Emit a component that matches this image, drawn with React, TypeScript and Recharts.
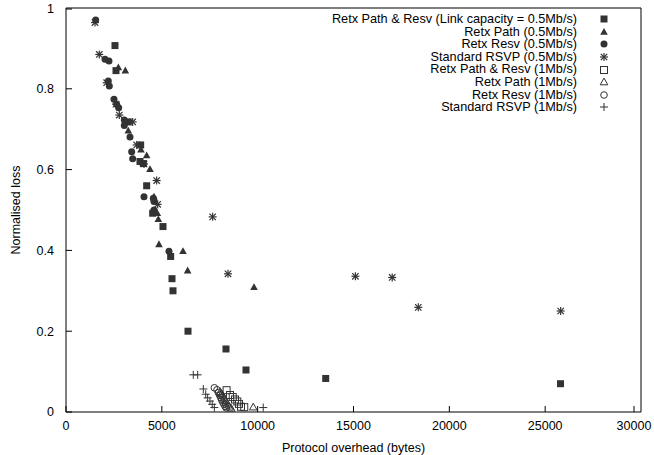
import React from 'react';
import { ScatterChart, Scatter, XAxis, YAxis } from 'recharts';

// values (bytes, normalised loss)
const pathResv05 = [
  { x: 2556, y: 0.907 }, { x: 2609, y: 0.845 }, { x: 3250, y: 0.718 }, { x: 3895, y: 0.661 },
  { x: 3860, y: 0.62 }, { x: 4035, y: 0.615 }, { x: 4209, y: 0.56 }, { x: 4522, y: 0.492 },
  { x: 5060, y: 0.459 }, { x: 5460, y: 0.385 }, { x: 5530, y: 0.33 }, { x: 5582, y: 0.3 },
  { x: 6365, y: 0.2 }, { x: 8347, y: 0.156 }, { x: 9391, y: 0.104 }, { x: 13550, y: 0.083 },
  { x: 25800, y: 0.07 },
];
const path05 = [
  { x: 2730, y: 0.853 }, { x: 3095, y: 0.845 }, { x: 3250, y: 0.696 }, { x: 3913, y: 0.649 },
  { x: 4209, y: 0.635 }, { x: 4382, y: 0.601 }, { x: 4591, y: 0.533 }, { x: 4765, y: 0.492 },
  { x: 4817, y: 0.477 }, { x: 4852, y: 0.415 }, { x: 6104, y: 0.398 }, { x: 6347, y: 0.35 },
  { x: 9808, y: 0.309 },
];
const resv05 = [
  { x: 1548, y: 0.97 }, { x: 2035, y: 0.873 }, { x: 2243, y: 0.869 }, { x: 2207, y: 0.819 },
  { x: 2260, y: 0.807 }, { x: 2504, y: 0.774 }, { x: 2643, y: 0.762 }, { x: 2748, y: 0.753 },
  { x: 3042, y: 0.723 }, { x: 3042, y: 0.709 }, { x: 3339, y: 0.681 }, { x: 3426, y: 0.644 },
  { x: 3478, y: 0.627 }, { x: 4069, y: 0.533 }, { x: 4556, y: 0.529 }, { x: 4591, y: 0.521 },
  { x: 4591, y: 0.5 }, { x: 5373, y: 0.398 },
];
const rsvp05 = [
  { x: 1513, y: 0.964 }, { x: 1737, y: 0.885 }, { x: 2122, y: 0.815 }, { x: 2609, y: 0.762 },
  { x: 2782, y: 0.735 }, { x: 3478, y: 0.718 }, { x: 3687, y: 0.661 }, { x: 4069, y: 0.614 },
  { x: 4730, y: 0.573 }, { x: 4782, y: 0.514 }, { x: 7652, y: 0.483 }, { x: 8452, y: 0.342 },
  { x: 15100, y: 0.336 }, { x: 17020, y: 0.333 }, { x: 18380, y: 0.259 }, { x: 25810, y: 0.25 },
];
const pathResv1 = [
  { x: 8380, y: 0.054 }, { x: 8556, y: 0.042 }, { x: 8700, y: 0.037 }, { x: 8817, y: 0.031 },
  { x: 8937, y: 0.026 }, { x: 9025, y: 0.02 }, { x: 9130, y: 0.013 }, { x: 9300, y: 0.012 },
];
const path1 = [
  { x: 8050, y: 0.05 }, { x: 8120, y: 0.045 }, { x: 8190, y: 0.04 }, { x: 8260, y: 0.034 },
  { x: 8330, y: 0.028 }, { x: 8400, y: 0.022 }, { x: 8470, y: 0.017 }, { x: 8540, y: 0.012 },
  { x: 8620, y: 0.009 }, { x: 9770, y: 0.012 },
];
const resv1 = [
  { x: 7740, y: 0.06 }, { x: 7880, y: 0.055 }, { x: 7950, y: 0.048 }, { x: 8010, y: 0.042 },
  { x: 8070, y: 0.036 }, { x: 8120, y: 0.03 }, { x: 8180, y: 0.024 }, { x: 8240, y: 0.019 },
  { x: 8300, y: 0.014 }, { x: 8360, y: 0.01 },
];
const rsvp1 = [
  { x: 6640, y: 0.092 }, { x: 6870, y: 0.092 }, { x: 7165, y: 0.057 }, { x: 7290, y: 0.044 },
  { x: 7390, y: 0.035 }, { x: 7510, y: 0.027 }, { x: 7630, y: 0.019 }, { x: 7740, y: 0.011 },
  { x: 10290, y: 0.011 },
];

const xTicks = [0, 5000, 10000, 15000, 20000, 25000, 30000];
const yTicks = [0, 0.2, 0.4, 0.6, 0.8, 1];

const INK = '#333';
const FONT = '"Liberation Sans", Arial, sans-serif';

type P = { cx?: number; cy?: number };

const FilledSquare = ({ cx = 0, cy = 0 }: P) => (
  <rect x={cx - 3.5} y={cy - 3.5} width={7} height={7} fill={INK} />
);
const FilledTriangle = ({ cx = 0, cy = 0 }: P) => (
  <polygon points={`${cx},${cy - 4} ${cx + 3.8},${cy + 2.8} ${cx - 3.8},${cy + 2.8}`} fill={INK} />
);
const FilledCircle = ({ cx = 0, cy = 0 }: P) => <circle cx={cx} cy={cy} r={3.5} fill={INK} />;
const Asterisk = ({ cx = 0, cy = 0 }: P) => (
  <g stroke={INK} strokeWidth={1.2}>
    <line x1={cx - 4} y1={cy} x2={cx + 4} y2={cy} />
    <line x1={cx} y1={cy - 4} x2={cx} y2={cy + 4} />
    <line x1={cx - 3.2} y1={cy - 3.2} x2={cx + 3.2} y2={cy + 3.2} />
    <line x1={cx - 3.2} y1={cy + 3.2} x2={cx + 3.2} y2={cy - 3.2} />
  </g>
);
const OpenSquare = ({ cx = 0, cy = 0 }: P) => (
  <rect x={cx - 3.5} y={cy - 3.5} width={7} height={7} fill="none" stroke={INK} strokeWidth={1} />
);
const OpenTriangle = ({ cx = 0, cy = 0 }: P) => (
  <polygon
    points={`${cx},${cy - 4} ${cx + 3.8},${cy + 2.8} ${cx - 3.8},${cy + 2.8}`}
    fill="none"
    stroke={INK}
    strokeWidth={1}
  />
);
const OpenCircle = ({ cx = 0, cy = 0 }: P) => (
  <circle cx={cx} cy={cy} r={3.3} fill="none" stroke={INK} strokeWidth={1} />
);
const Plus = ({ cx = 0, cy = 0 }: P) => (
  <g stroke={INK} strokeWidth={1}>
    <line x1={cx - 4} y1={cy} x2={cx + 4} y2={cy} />
    <line x1={cx} y1={cy - 4} x2={cx} y2={cy + 4} />
  </g>
);

const series = [
  { name: 'Retx Path & Resv (Link capacity = 0.5Mb/s)', data: pathResv05, Shape: FilledSquare },
  { name: 'Retx Path (0.5Mb/s)', data: path05, Shape: FilledTriangle },
  { name: 'Retx Resv (0.5Mb/s)', data: resv05, Shape: FilledCircle },
  { name: 'Standard RSVP (0.5Mb/s)', data: rsvp05, Shape: Asterisk },
  { name: 'Retx Path & Resv (1Mb/s)', data: pathResv1, Shape: OpenSquare },
  { name: 'Retx Path (1Mb/s)', data: path1, Shape: OpenTriangle },
  { name: 'Retx Resv (1Mb/s)', data: resv1, Shape: OpenCircle },
  { name: 'Standard RSVP (1Mb/s)', data: rsvp1, Shape: Plus },
];

// inward tick marks, gnuplot style
const BottomTick = (props: any) => {
  const { x, y, payload } = props;
  return (
    <g>
      <line x1={x} y1={y - 9} x2={x} y2={y - 15} stroke="#000" />
      <text x={x} y={y} dy="0.71em" textAnchor="middle" fill="#000" fontSize={12.5} fontFamily={FONT}>
        {payload.value}
      </text>
    </g>
  );
};
const LeftTick = (props: any) => {
  const { x, y, payload } = props;
  return (
    <g>
      <line x1={x + 12} y1={y} x2={x + 18} y2={y} stroke="#000" />
      <text x={x} y={y} dy="0.355em" textAnchor="end" fill="#000" fontSize={12.5} fontFamily={FONT}>
        {payload.value}
      </text>
    </g>
  );
};
const TopTick = (props: any) => {
  const { x, y } = props;
  return <line x1={x} y1={y + 1} x2={x} y2={y + 7} stroke="#000" />;
};
const RightTick = (props: any) => {
  const { x, y } = props;
  return <line x1={x - 1} y1={y} x2={x - 7} y2={y} stroke="#000" />;
};

const Legend = () => (
  <div
    style={{
      position: 'absolute',
      left: 280,
      top: 13,
      width: 331,
      fontFamily: FONT,
      fontSize: 12.7,
      color: '#000',
    }}
  >
    {series.map(({ name, Shape }) => (
      <div key={name} style={{ display: 'flex', justifyContent: 'flex-end', alignItems: 'center', height: 12.6 }}>
        <span style={{ whiteSpace: 'nowrap', lineHeight: '12.6px' }}>{name}</span>
        <svg width={14} height={12} style={{ marginLeft: 20 }}>
          <Shape cx={7} cy={6} />
        </svg>
      </div>
    ))}
  </div>
);

export default function App() {
  return (
    <div style={{ position: 'absolute', left: 0, top: 0, width: 654, height: 455, background: '#fff' }}>
      <ScatterChart width={654} height={455} margin={{ top: 7, right: 12, bottom: 0, left: 0 }}>
        <XAxis
          xAxisId="bottom"
          type="number"
          dataKey="x"
          domain={[0, 30000]}
          ticks={xTicks}
          height={43}
          tickSize={0}
          tickMargin={9}
          tick={BottomTick}
          axisLine={{ stroke: '#000' }}
          label={{ value: 'Protocol overhead (bytes)', position: 'insideBottom', offset: 3, fill: '#000', fontSize: 12.5, fontFamily: FONT }}
        />
        <XAxis
          xAxisId="top"
          orientation="top"
          type="number"
          dataKey="x"
          domain={[0, 30000]}
          ticks={xTicks}
          height={1}
          tickSize={0}
          tickMargin={0}
          tick={TopTick}
          axisLine={{ stroke: '#000' }}
        />
        <YAxis
          yAxisId="left"
          type="number"
          dataKey="y"
          domain={[0, 1]}
          ticks={yTicks}
          width={66}
          tickSize={0}
          tickMargin={12}
          tick={LeftTick}
          axisLine={{ stroke: '#000' }}
          label={{
            value: 'Normalised loss',
            angle: -90,
            position: 'insideLeft',
            offset: 16,
            fill: '#000',
            fontSize: 12.5,
            fontFamily: FONT,
            style: { textAnchor: 'middle' },
          }}
        />
        <YAxis
          yAxisId="right"
          orientation="right"
          type="number"
          dataKey="y"
          domain={[0, 1]}
          ticks={yTicks}
          width={1}
          tickSize={0}
          tickMargin={0}
          tick={RightTick}
          axisLine={{ stroke: '#000' }}
        />
        {series.map(({ name, data, Shape }) => (
          <Scatter
            key={name}
            name={name}
            data={data}
            xAxisId="bottom"
            yAxisId="left"
            shape={(p: any) => <Shape cx={p.cx} cy={p.cy} />}
            isAnimationActive={false}
          />
        ))}
      </ScatterChart>
      <Legend />
    </div>
  );
}
